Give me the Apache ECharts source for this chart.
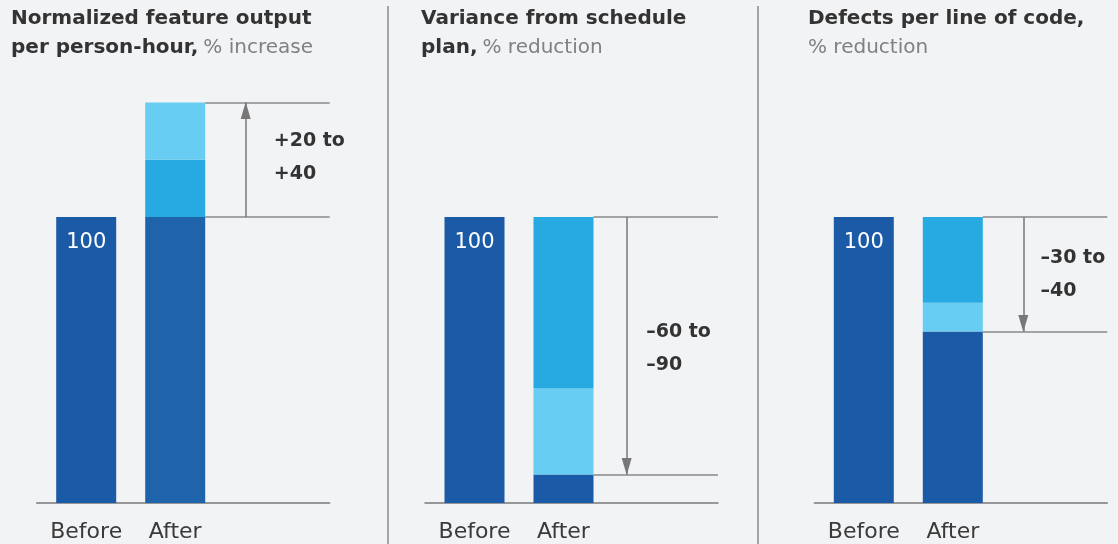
<!DOCTYPE html>
<html><head><meta charset="utf-8">
<script src="https://cdn.jsdelivr.net/npm/echarts@6/dist/echarts.min.js"></script>
<style>html,body{margin:0;padding:0;background:#f2f3f5;}#c{width:1118px;height:544px;}</style>
</head><body><div id="c"></div>
<script>
// ---- data ----
const categories = ['Before', 'After'];
const titleBold = [['Normalized feature output', 'per person-hour,'], ['Variance from schedule', 'plan,'], ['Defects per line of code,', '']];
const titleUnit = ['% increase', '% reduction', '% reduction'];
const beforeValues = [100, 100, 100];
const afterBottom = [100, 10, 60];
const afterMiddle = [20, 30, 10];
const afterTop = [20, 60, 30];
const changeRange = [[20, 40], [-60, -90], [-30, -40]];

// ---- layout / style ----
const FONT = 'DejaVu Sans';
const panelLeft = [36.7, 425, 814.3];
const axisW = 293;
const slotX = [49.5, 138.5];
const barW = 60;
const arrowX = [209, 201.7, 209];
const labelX = [236.6, 220.7, 225.7];
const labelDy = [-2, 3, 0];
const titleLeft = [11, 421, 808];
const segColors = [
  ['#1f64ab', '#27a9e1', '#67cdf2'],
  ['#1b5aa7', '#67cdf2', '#27a9e1'],
  ['#1b5aa7', '#67cdf2', '#27a9e1']
];
const darkBlue = '#1b5aa7';
const lineGrey = '#888888';

const fmt = v => (v > 0 ? '+' : '\u2013') + Math.abs(v);

const chart = echarts.init(document.getElementById('c'), null, {renderer: 'canvas'});
const grid = [], xAxis = [], yAxis = [], series = [], title = [];
for (let i = 0; i < 3; i++) {
  grid.push({left: panelLeft[i], width: axisW, top: 74, height: 429, containLabel: false});
  xAxis.push({
    type: 'value', gridIndex: i, min: 0, max: axisW,
    axisLine: {show: true, lineStyle: {color: '#7a7a7a', width: 1.5}},
    axisTick: {show: false}, splitLine: {show: false},
    axisLabel: {
      show: true, customValues: slotX, margin: 18,
      formatter: v => categories[slotX.indexOf(v)] || '',
      fontFamily: FONT, fontSize: 22, color: '#3a3a3a'
    }
  });
  yAxis.push({type: 'value', gridIndex: i, min: 0, max: 150, show: false});
  const l2 = titleBold[i][1] ? `{b|${titleBold[i][1]}} {g|${titleUnit[i]}}` : `{g|${titleUnit[i]}}`;
  title.push({
    text: `{b|${titleBold[i][0]}}\n${l2}`, left: titleLeft[i], top: 4, padding: 0,
    textStyle: {
      rich: {
        b: {fontFamily: FONT, fontSize: 20, fontWeight: 'bold', color: '#333', lineHeight: 29},
        g: {fontFamily: FONT, fontSize: 20, fontWeight: 'normal', color: '#808080', lineHeight: 29}
      }
    }
  });
  const common = {type: 'bar', xAxisIndex: i, yAxisIndex: i, barWidth: barW, barGap: '-100%', silent: true, animation: false,
    encode: {x: 1, y: 0}};
  const base = beforeValues[i];
  const hi = base + changeRange[i][1];
  const barRight = slotX[1] + barW / 2;
  series.push(Object.assign({}, common, {
    name: 'before' + i,
    data: [[beforeValues[i], slotX[0]]],
    itemStyle: {color: darkBlue},
    label: {show: true, position: 'insideTop', distance: 15, color: '#fff', fontFamily: FONT, fontSize: 21,
      formatter: p => String(p.value[0])},
    markLine: {
      silent: true, animation: false, symbol: 'none',
      lineStyle: {color: lineGrey, width: 1.5, type: 'solid'},
      label: {show: false},
      data: [
        [{coord: [barRight, base]}, {coord: [axisW, base]}],
        [{coord: [barRight, hi]}, {coord: [axisW, hi]}],
        [{coord: [arrowX[i], base], symbol: 'none'},
         {coord: [arrowX[i], hi], symbol: 'triangle', symbolSize: [10, 17], symbolOffset: [0, 8],
          lineStyle: {color: '#777777'}}]
      ]
    },
    markPoint: {
      silent: true, animation: false,
      data: [{
        coord: [labelX[i], (base + hi) / 2], symbol: 'circle', symbolSize: 1,
        itemStyle: {color: 'rgba(0,0,0,0)'},
        label: {show: true, position: 'right', distance: 0, offset: [0, labelDy[i]],
          formatter: fmt(changeRange[i][0]) + ' to\n' + fmt(changeRange[i][1]), align: 'left',
          fontFamily: FONT, fontSize: 19, fontWeight: 'bold', color: '#333', lineHeight: 33}
      }]
    }
  }));
  [afterBottom[i], afterMiddle[i], afterTop[i]].forEach((v, k) => {
    series.push(Object.assign({}, common, {
      name: 'after' + i + '_' + k, stack: 'after' + i,
      data: [[v, slotX[1]]],
      itemStyle: {color: segColors[i][k]}
    }));
  });
}
chart.setOption({
  backgroundColor: '#f2f3f5',
  animation: false,
  title, grid, xAxis, yAxis, series,
  graphic: [388, 758].map(x => ({
    type: 'line', silent: true,
    shape: {x1: x, y1: 6, x2: x, y2: 544},
    style: {stroke: '#8a8a8a', lineWidth: 1.5}
  }))
});
</script></body></html>
